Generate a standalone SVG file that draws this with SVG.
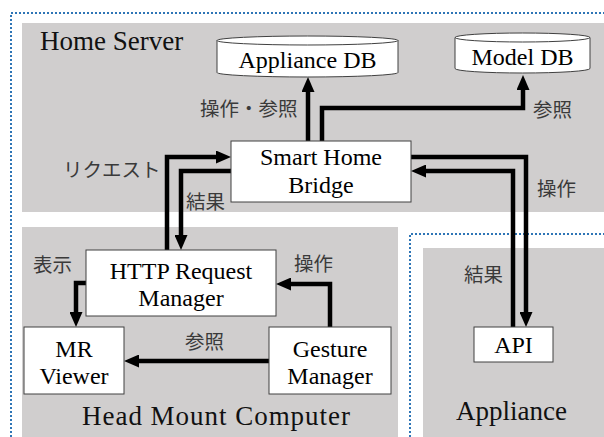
<svg xmlns="http://www.w3.org/2000/svg" width="604" height="437" viewBox="0 0 604 437">
  <style>
    .zone { fill: #d0cece; }
    .bound { fill: none; stroke: #2e75b6; stroke-width: 2; stroke-dasharray: 2 2; }
    .box { fill: #ffffff; stroke: #404040; stroke-width: 1; }
    .name { font-family: "Liberation Serif", "Times New Roman", serif; font-size: 24px; fill: #000; text-anchor: middle; }
    .zname { font-family: "Liberation Serif", "Times New Roman", serif; font-size: 27px; fill: #111; }
    .lbl { font-family: "Liberation Serif", "Noto Sans CJK JP", sans-serif; font-size: 19.5px; fill: #3a3a3a; }
    .wire { fill: none; stroke: #000; stroke-width: 4.5; stroke-linejoin: miter; marker-end: url(#head); }
  </style>
  <defs>
    <marker id="head" viewBox="0 0 15 13" refX="1" refY="6.5" markerWidth="15" markerHeight="13" markerUnits="userSpaceOnUse" orient="auto">
      <path d="M0,0 L15,6.5 L0,13 Z" fill="#000"/>
    </marker>
  </defs>

  <rect width="604" height="437" fill="#ffffff"/>

  <!-- dotted boundaries -->
  <path class="bound" d="M11,437 V13 H604"/>
  <path class="bound" d="M410,437 V234 H604"/>

  <!-- shaded zones -->
  <g id="home-server">
    <rect class="zone" x="22" y="23" width="582" height="189"/>
    <text class="zname" x="40" y="50">Home Server</text>
  </g>
  <g id="head-mount-computer">
    <rect class="zone" x="22" y="227" width="376" height="210"/>
    <text class="zname" x="82" y="425" textLength="268" lengthAdjust="spacing">Head Mount Computer</text>
  </g>
  <g id="appliance">
    <rect class="zone" x="423" y="248" width="181" height="189"/>
    <text class="zname" x="456" y="420">Appliance</text>
  </g>

  <!-- connectors -->
  <g id="connectors">
    <path class="wire" d="M308,141 V91"/>
    <path class="wire" d="M322,141 V108 H523 V89"/>
    <path class="wire" d="M167,250 V157 H217"/>
    <path class="wire" d="M231,171 H181 V236"/>
    <path class="wire" d="M411,157 H526 V313"/>
    <path class="wire" d="M513,327 V171 H425"/>
    <path class="wire" d="M86,283 H76 V313"/>
    <path class="wire" d="M269,361 H138"/>
    <path class="wire" d="M330,327 V284 H290"/>

    <text class="lbl" x="200" y="116">操作・参照</text>
    <text class="lbl" x="533" y="117">参照</text>
    <text class="lbl" x="537" y="196">操作</text>
    <text class="lbl" x="63" y="177">リクエスト</text>
    <text class="lbl" x="186" y="209">結果</text>
    <text class="lbl" x="464" y="282">結果</text>
    <text class="lbl" x="33" y="272">表示</text>
    <text class="lbl" x="185" y="349">参照</text>
    <text class="lbl" x="294" y="271">操作</text>
  </g>

  <!-- nodes -->
  <g id="appliance-db">
    <path class="box" d="M217,40.5 V72.5 A90.5,4.5 0 0 0 398,72.5 V40.5"/>
    <ellipse class="box" cx="307.5" cy="40.5" rx="90.5" ry="4.5"/>
    <text class="name" x="307.5" y="68">Appliance DB</text>
  </g>
  <g id="model-db">
    <path class="box" d="M455,37.5 V68.5 A67.5,4.5 0 0 0 590,68.5 V37.5"/>
    <ellipse class="box" cx="522.5" cy="37.5" rx="67.5" ry="4.5"/>
    <text class="name" x="522.5" y="65">Model DB</text>
  </g>
  <g id="smart-home-bridge">
    <rect class="box" x="231" y="141" width="180" height="61"/>
    <text class="name" x="321" y="165">Smart Home</text>
    <text class="name" x="321" y="193">Bridge</text>
  </g>
  <g id="http-request-manager">
    <rect class="box" x="86" y="250" width="190" height="66"/>
    <text class="name" x="181" y="279">HTTP Request</text>
    <text class="name" x="181" y="306">Manager</text>
  </g>
  <g id="mr-viewer">
    <rect class="box" x="24" y="327" width="100" height="67"/>
    <text class="name" x="74" y="357">MR</text>
    <text class="name" x="74" y="384">Viewer</text>
  </g>
  <g id="gesture-manager">
    <rect class="box" x="269" y="327" width="122" height="67"/>
    <text class="name" x="330" y="357">Gesture</text>
    <text class="name" x="330" y="384">Manager</text>
  </g>
  <g id="api">
    <rect class="box" x="474" y="327" width="79" height="35"/>
    <text class="name" x="513.5" y="353">API</text>
  </g>
</svg>
